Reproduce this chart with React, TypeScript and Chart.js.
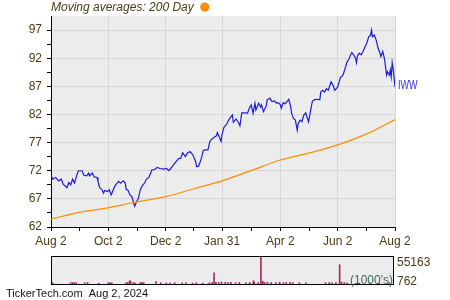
import React, { useEffect, useRef } from 'react';
import { Chart, registerables } from 'chart.js';

Chart.register(...registerables);

// ---- data (x = days after Aug 2, 2023) ----
const xTickDays = [0, 61, 122, 182, 244, 305, 366];
const xTickLabels = ['Aug 2', 'Oct 2', 'Dec 2', 'Jan 31', 'Apr 2', 'Jun 2', 'Aug 2'];
const yTickValues = [62, 67, 72, 77, 82, 87, 92, 97];
const yMin = 62;
const yMax = 99.5;

const priceDays = [
  0, 2, 5, 8, 11, 13, 17, 19, 21, 23,
  25, 27, 29, 33, 35, 38, 40, 41, 44, 46,
  49, 50, 52, 54, 56, 57, 60, 62, 64, 66,
  68, 72, 74, 77, 79, 80, 82, 84, 86, 88,
  89, 91, 93, 95, 97, 100, 101, 104, 106, 107,
  111, 113, 116, 120, 123, 125, 127, 130, 133, 136,
  138, 140, 143, 145, 148, 151, 154, 155, 157, 160,
  162, 164, 167, 169, 171, 174, 176, 177, 179, 181,
  182, 184, 187, 189, 191, 193, 194, 197, 200, 201,
  203, 207, 209, 211, 213, 215, 217, 218, 221, 223,
  224, 226, 229, 230, 233, 235, 238, 240, 242, 244,
  245, 247, 249, 251, 253, 255, 256, 258, 260, 262,
  263, 265, 267, 269, 271, 272, 274, 276, 278, 280,
  283, 286, 287, 289, 291, 293, 295, 298, 300, 302,
  305, 308, 310, 311, 313, 315, 317, 318, 320, 322,
  324, 325, 326, 328, 330, 332, 334, 336, 338, 340,
  341, 342, 344, 346, 348, 350, 351, 353, 355, 357,
  358, 360, 361, 362, 363, 364, 366,
];
const priceValues = [
  71.2, 70.5, 70.8, 70.2, 70.5, 69.6, 69.0, 69.9, 69.5, 70.5,
  69.8, 70.9, 72.0, 72.0, 71.2, 71.1, 71.6, 71.1, 71.6, 70.9,
  70.8, 70.1, 68.9, 68.7, 68.0, 68.5, 68.3, 68.6, 67.7, 68.5,
  69.3, 70.1, 69.8, 70.2, 69.8, 68.7, 68.5, 67.7, 67.4, 66.2,
  65.7, 66.5, 67.1, 68.6, 69.3, 69.9, 70.4, 70.8, 71.5, 72.1,
  72.3, 72.6, 72.4, 72.3, 72.4, 72.0, 72.3, 73.0, 73.6, 74.2,
  74.2, 75.2, 74.5, 75.1, 75.4, 74.8, 73.6, 72.7, 72.8, 74.2,
  75.6, 75.7, 75.7, 77.2, 77.6, 78.0, 78.2, 78.8, 78.0, 77.2,
  78.5, 79.7, 80.3, 81.0, 81.5, 81.9, 80.6, 81.2, 80.4, 80.0,
  82.3, 82.3, 82.2, 83.1, 83.7, 82.2, 84.0, 82.8, 84.0, 83.3,
  83.7, 82.5, 83.5, 84.6, 84.9, 84.3, 84.4, 84.0, 84.1, 83.7,
  83.1, 84.1, 83.9, 84.3, 84.7, 83.4, 82.2, 81.3, 81.0, 79.2,
  80.4, 81.0, 80.7, 81.9, 82.3, 81.7, 80.7, 82.5, 84.3, 84.6,
  84.7, 84.6, 86.0, 86.3, 86.0, 86.6, 86.3, 87.8, 87.2, 86.3,
  86.9, 88.6, 88.8, 89.2, 90.2, 91.4, 91.8, 92.3, 93.0, 92.6,
  92.0, 91.2, 92.4, 92.9, 92.6, 93.2, 94.0, 94.7, 95.8, 96.1,
  97.0, 95.8, 96.1, 95.2, 93.8, 92.9, 92.3, 93.2, 91.7, 89.0,
  89.6, 89.0, 89.9, 88.7, 91.2, 90.2, 86.9,
];

const maDays = [0, 30, 60, 89, 122, 152, 182, 214, 244, 271, 305, 342, 366];
const maValues = [63.4, 64.6, 65.4, 66.4, 67.4, 68.8, 70.2, 72.1, 73.9, 75.0, 76.6, 79.0, 81.1];

const volDays = [
  0, 2, 21, 23, 25, 27, 36, 39, 51, 61,
  63, 65, 80, 82, 84, 85, 88, 90, 95, 97,
  99, 112, 117, 123, 127, 132, 140, 144, 151, 155,
  162, 169, 172, 174, 176, 179, 182, 186, 189, 192,
  197, 201, 208, 212, 216, 217, 221, 224, 226, 228,
  231, 235, 240, 244, 248, 251, 255, 258, 265, 272,
  293, 297, 300, 304, 308, 310, 313, 316, 329, 340,
  350, 361,
];
const volValues = [
  3000, 2500, 2500, 3000, 2800, 2500, 2500, 3000, 1500, 2500,
  3000, 2500, 2500, 3500, 6500, 5000, 3000, 2000, 2500, 3500,
  2500, 5000, 2500, 2000, 2000, 2500, 2000, 2500, 2000, 2500,
  1500, 2500, 3000, 22000, 3500, 3000, 4000, 3500, 3000, 3500,
  2500, 3000, 2500, 3000, 6500, 3500, 3000, 55163, 5500, 3000,
  3500, 3000, 3000, 3500, 2500, 3000, 3500, 2500, 2500, 2500,
  2500, 3000, 2500, 3000, 38000, 4000, 3000, 2500, 2000, 2500,
  2000, 2500,
];
const volTickLabels = ['55163', '762'];
const volMax = 55163;

const TEXT = '#4b3a15';
const FONT = '"Liberation Sans", Arial, Helvetica, sans-serif';
const PLOT_BG = '#ececec';
const GRID = '#d6d6d6';

export default function App() {
  const mainRef = useRef<HTMLCanvasElement>(null);
  const volRef = useRef<HTMLCanvasElement>(null);

  useEffect(() => {
    const bgPlugin = {
      id: 'plotBg',
      beforeDraw(chart: any) {
        const { ctx, chartArea: a } = chart;
        ctx.save();
        ctx.fillStyle = PLOT_BG;
        ctx.fillRect(a.left, a.top, a.right - a.left, a.bottom - a.top);
        ctx.restore();
      },
    };

    const textPlugin = {
      id: 'mainText',
      afterDraw(chart: any) {
        const { ctx, chartArea: a } = chart;
        ctx.save();
        ctx.textBaseline = 'middle';
        ctx.textAlign = 'left';
        ctx.font = `italic 12px ${FONT}`;
        ctx.fillStyle = TEXT;
        const title = 'Moving averages: 200 Day';
        ctx.fillText(title, a.left, 8);
        const w = ctx.measureText(title).width;
        ctx.beginPath();
        ctx.arc(a.left + w + 11, 7, 4.6, 0, Math.PI * 2);
        ctx.fillStyle = '#ff8c00';
        ctx.fill();

        // series label at last price
        const lastY = chart.scales.y.getPixelForValue(priceValues[priceValues.length - 1]);
        ctx.save();
        ctx.translate(a.right + 3, lastY - 1);
        ctx.scale(0.75, 1);
        ctx.font = `12px ${FONT}`;
        ctx.fillStyle = '#2a2ad0';
        ctx.fillText('IWW', 0, 0);
        ctx.restore();

        ctx.font = `11px ${FONT}`;
        ctx.fillStyle = '#111111';
        ctx.fillText('TickerTech.com  Aug 2, 2024', 6, 294);
        ctx.restore();
      },
    };

    const isMajorX = (v: number) => xTickDays.includes(v);
    const isMajorY = (v: number) => yTickValues.includes(v);

    const main = new Chart(mainRef.current as HTMLCanvasElement, {
      type: 'line',
      data: {
        datasets: [
          {
            label: '200 Day',
            data: maDays.map((d, i) => ({ x: d, y: maValues[i] })),
            borderColor: '#ff8c00',
            borderWidth: 1.2,
            pointRadius: 0,
            cubicInterpolationMode: 'monotone',
          },
          {
            label: 'IWW',
            data: priceDays.map((d, i) => ({ x: d, y: priceValues[i] })),
            borderColor: '#1c1cd6',
            borderWidth: 1.2,
            pointRadius: 0,
            tension: 0,
          },
        ],
      },
      options: {
        responsive: false,
        animation: false,
        layout: { padding: { top: 16, right: 55, left: 0, bottom: 0 } },
        plugins: { legend: { display: false }, tooltip: { enabled: false } },
        scales: {
          x: {
            type: 'linear',
            min: 0,
            max: 366,
            afterBuildTicks: (s: any) => {
              const t: any[] = [];
              xTickDays.forEach((d, i) => {
                t.push({ value: d });
                if (i < xTickDays.length - 1) t.push({ value: (d + xTickDays[i + 1]) / 2 });
              });
              s.ticks = t;
            },
            afterFit: (s: any) => {
              s.height = 73;
            },
            grid: {
              color: (c: any) => (c.tick && isMajorX(c.tick.value) ? GRID : 'rgba(0,0,0,0)'),
              tickColor: '#000',
              tickLength: 4,
              lineWidth: 1,
            },
            border: { display: true, color: '#000', width: 1 },
            ticks: {
              autoSkip: false,
              maxRotation: 0,
              padding: 3,
              color: TEXT,
              font: { family: FONT, size: 12 },
              callback: (v: any) => {
                const i = xTickDays.indexOf(Number(v));
                return i >= 0 ? xTickLabels[i] : '';
              },
            },
          },
          y: {
            type: 'linear',
            min: yMin,
            max: yMax,
            afterBuildTicks: (s: any) => {
              const t: any[] = [];
              yTickValues.forEach((v) => {
                t.push({ value: v });
                if (v + 2.5 < yMax) t.push({ value: v + 2.5 });
              });
              s.ticks = t;
            },
            afterFit: (s: any) => {
              s.width = 51;
            },
            grid: {
              color: (c: any) => (c.tick && isMajorY(c.tick.value) ? GRID : 'rgba(0,0,0,0)'),
              tickColor: '#000',
              tickLength: 4,
              lineWidth: 1,
            },
            border: { display: true, color: '#000', width: 1 },
            ticks: {
              autoSkip: false,
              padding: 5,
              color: TEXT,
              font: { family: FONT, size: 12 },
              callback: (v: any) => (isMajorY(Number(v)) ? String(v) : ''),
            },
          },
        },
      },
      plugins: [bgPlugin, textPlugin],
    } as any);

    const volText = {
      id: 'volText',
      afterDraw(chart: any) {
        const { ctx, chartArea: a } = chart;
        ctx.save();
        ctx.strokeStyle = '#000';
        ctx.lineWidth = 1;
        ctx.strokeRect(a.left + 0.5, a.top + 0.5, a.right - a.left - 1, a.bottom - a.top);
        ctx.textBaseline = 'middle';
        ctx.font = `12px ${FONT}`;
        ctx.fillStyle = TEXT;
        ctx.textAlign = 'left';
        ctx.fillText(volTickLabels[0], a.right + 3, a.top + 6.5);
        ctx.fillText(volTickLabels[1], a.right + 3, a.bottom - 2.5);
        ctx.textAlign = 'right';
        ctx.fillStyle = '#3d6b57';
        ctx.fillText("(1000's)", a.right - 1, a.bottom - 3.5);
        ctx.restore();
      },
    };

    const vol = new Chart(volRef.current as HTMLCanvasElement, {
      type: 'bar',
      data: {
        datasets: [
          {
            data: volDays.map((d, i) => ({ x: d, y: volValues[i] })),
            backgroundColor: '#9b2f63',
            borderWidth: 0,
            barThickness: 1,
          },
        ],
      },
      options: {
        responsive: false,
        animation: false,
        layout: { padding: { left: 51, right: 56, top: 6, bottom: 6 } },
        plugins: { legend: { display: false }, tooltip: { enabled: false } },
        scales: {
          x: { type: 'linear', min: 0, max: 366, offset: false, display: false },
          y: { type: 'linear', min: 0, max: volMax, display: false },
        },
      },
      plugins: [bgPlugin, volText],
    } as any);

    return () => {
      main.destroy();
      vol.destroy();
    };
  }, []);

  return (
    <div style={{ position: 'fixed', left: 0, top: 0, width: 450, height: 300, background: '#fff' }}>
      <canvas
        ref={mainRef}
        width={450}
        height={300}
        style={{ position: 'absolute', left: 0, top: 0, width: 450, height: 300 }}
      />
      <canvas
        ref={volRef}
        width={450}
        height={40}
        style={{ position: 'absolute', left: 0, top: 250, width: 450, height: 40 }}
      />
    </div>
  );
}
